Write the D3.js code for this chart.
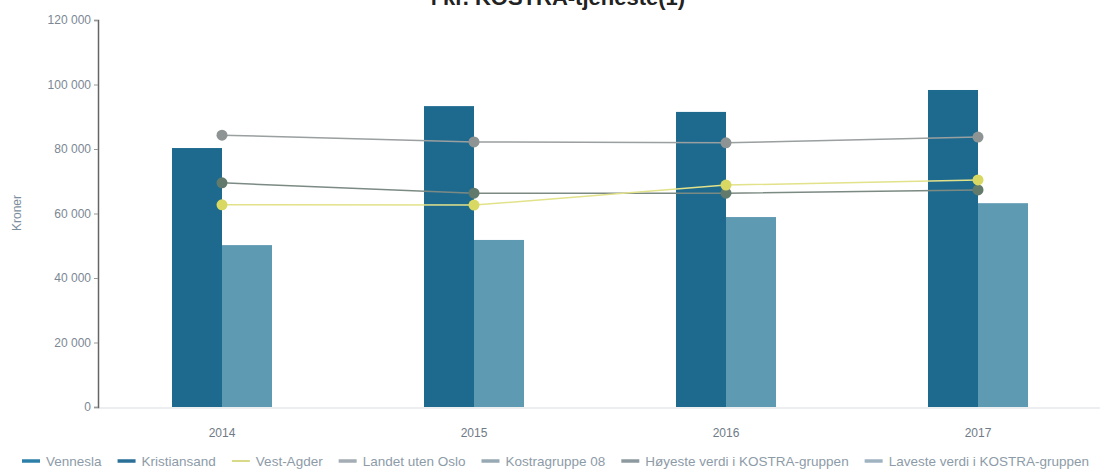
<!DOCTYPE html>
<html>
<head>
<meta charset="utf-8">
<script src="https://cdn.jsdelivr.net/npm/d3@7"></script>
<style>
  body { margin: 0; background: #fff; }
  svg { display: block; font-family: "Liberation Sans", Arial, sans-serif; }
</style>
</head>
<body>
<svg id="chart" width="1100" height="471"></svg>
<script>
"use strict";

var years = ['2014', '2015', '2016', '2017'];
var vennesla = [80300, 93300, 91500, 98300];
var kristiansand = [50200, 51800, 58900, 63200];
var vestAgder = [62700, 62600, 68800, 70400];
var landetUtenOslo = [69500, 66300, 66300, 67300];
var hoyesteVerdi = [84300, 82200, 81900, 83700];
var yTicks = [0, 20000, 40000, 60000, 80000, 100000, 120000];
var legendNames = ['Vennesla', 'Kristiansand', 'Vest-Agder', 'Landet uten Oslo',
  'Kostragruppe 08', 'Høyeste verdi i KOSTRA-gruppen', 'Laveste verdi i KOSTRA-gruppen'];
var legendColors = ['#2c80a8', '#2a6f98', '#d9d98a', '#a3adb3', '#97a9b3', '#8c9aa0', '#9fb3c0'];

var svg = d3.select('#chart');

// title, cut off at the top edge like in the original
svg.append('text')
  .attr('x', 558).attr('y', 5)
  .attr('text-anchor', 'middle')
  .attr('font-weight', 'bold')
  .attr('font-size', 22)
  .attr('fill', '#222')
  .text('i kr. KOSTRA-tjeneste(1)');

var X = d3.scaleBand().domain(years).range([96, 1104]);
var Y = d3.scaleLinear().domain([0, 120000]).range([407, 20]);
var barW = 50;

// x axis line
svg.append('line')
  .attr('x1', 98).attr('x2', 1100)
  .attr('y1', Y(0) + 1).attr('y2', Y(0) + 1)
  .attr('stroke', '#e6e8ea').attr('stroke-width', 1.5);

var yaxis = d3.axisLeft(Y)
  .tickValues(yTicks)
  .tickSize(4)
  .tickFormat(function (d) { return d3.format(',')(d).replace(/,/g, ' '); });

var yg = svg.append('g')
  .attr('transform', 'translate(98,0)')
  .call(yaxis);
yg.select('.domain').attr('stroke', '#666').attr('stroke-width', 1.5);
yg.selectAll('.tick line').attr('stroke', '#999');
yg.selectAll('.tick text')
  .attr('fill', '#7b8794').attr('font-size', 12).attr('x', -7);

svg.append('text')
  .attr('transform', 'translate(21,' + 213 + ') rotate(-90)')
  .attr('text-anchor', 'middle')
  .attr('font-size', 12)
  .attr('fill', '#7b8e9c')
  .text('Kroner');

// x labels
svg.append('g').selectAll('text')
  .data(years).join('text')
  .attr('x', function (d) { return X(d) + X.bandwidth() / 2; })
  .attr('y', 437)
  .attr('text-anchor', 'middle')
  .attr('font-size', 12)
  .attr('fill', '#6f7b86')
  .text(function (d) { return d; });

// bars
svg.append('g').selectAll('rect')
  .data(vennesla).join('rect')
  .attr('x', function (d, i) { return X(years[i]) + X.bandwidth() / 2 - barW; })
  .attr('y', function (d) { return Y(d); })
  .attr('width', barW)
  .attr('height', function (d) { return Y(0) - Y(d); })
  .attr('fill', '#1e6a8f');

svg.append('g').selectAll('rect')
  .data(kristiansand).join('rect')
  .attr('x', function (d, i) { return X(years[i]) + X.bandwidth() / 2; })
  .attr('y', function (d) { return Y(d); })
  .attr('width', barW)
  .attr('height', function (d) { return Y(0) - Y(d); })
  .attr('fill', '#5f9ab3');

// lines
var lineSeries = [
  { values: hoyesteVerdi, stroke: '#9a9f9f', dot: '#8e9493' },
  { values: landetUtenOslo, stroke: '#7c8a84', dot: '#617a6c' },
  { values: vestAgder, stroke: '#e2e28a', dot: '#d8d862' }
];

var valueline = d3.line()
  .x(function (d, i) { return X(years[i]) + X.bandwidth() / 2; })
  .y(function (d) { return Y(d); });

lineSeries.forEach(function (s) {
  svg.append('path')
    .datum(s.values)
    .attr('d', valueline)
    .attr('fill', 'none')
    .attr('stroke', s.stroke)
    .attr('stroke-width', 1.5);
  svg.append('g').selectAll('circle')
    .data(s.values).join('circle')
    .attr('cx', function (d, i) { return X(years[i]) + X.bandwidth() / 2; })
    .attr('cy', function (d) { return Y(d); })
    .attr('r', 5.5)
    .attr('fill', s.dot);
});

// legend
var lx = 22;
var legend = svg.append('g');
legendNames.forEach(function (name, i) {
  legend.append('line')
    .attr('x1', lx).attr('x2', lx + 18)
    .attr('y1', 461).attr('y2', 461)
    .attr('stroke', legendColors[i])
    .attr('stroke-width', i === 2 ? 2 : 3.5);
  var t = legend.append('text')
    .attr('x', lx + 24).attr('y', 465.5)
    .attr('font-size', 13.5)
    .attr('fill', '#8d9ba8')
    .text(name);
  lx += 24 + t.node().getComputedTextLength() + 16;
});
</script>
</body>
</html>
